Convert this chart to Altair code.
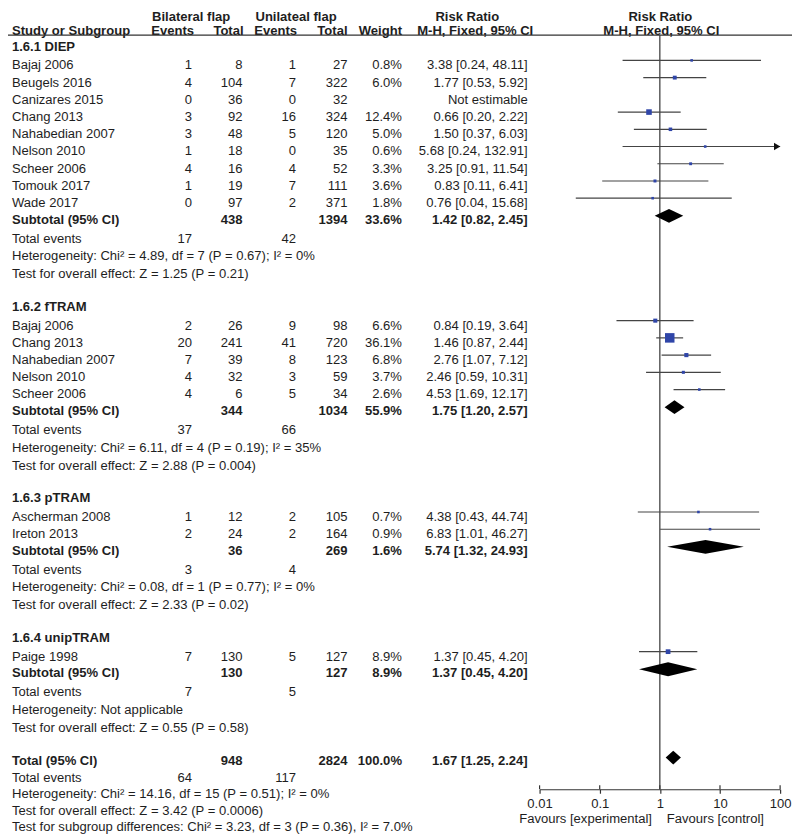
import math
import altair as alt
import pandas as pd

# ---------------- data ----------------
diep_names = ["Bajaj 2006", "Beugels 2016", "Canizares 2015", "Chang 2013", "Nahabedian 2007",
              "Nelson 2010", "Scheer 2006", "Tomouk 2017", "Wade 2017"]
diep_e1 = [1, 4, 0, 3, 3, 1, 4, 1, 0]
diep_n1 = [8, 104, 36, 92, 48, 18, 16, 19, 97]
diep_e2 = [1, 7, 0, 16, 5, 0, 4, 7, 2]
diep_n2 = [27, 322, 32, 324, 120, 35, 52, 111, 371]
diep_w = [0.8, 6.0, None, 12.4, 5.0, 0.6, 3.3, 3.6, 1.8]
diep_rr = [3.38, 1.77, None, 0.66, 1.50, 5.68, 3.25, 0.83, 0.76]
diep_lo = [0.24, 0.53, None, 0.20, 0.37, 0.24, 0.91, 0.11, 0.04]
diep_hi = [48.11, 5.92, None, 2.22, 6.03, 132.91, 11.54, 6.41, 15.68]
diep_sub = [438, 1394, 33.6, 1.42, 0.82, 2.45]
diep_ev = [17, 42]
diep_het = "Heterogeneity: Chi² = 4.89, df = 7 (P = 0.67); I² = 0%"
diep_test = "Test for overall effect: Z = 1.25 (P = 0.21)"

ftram_names = ["Bajaj 2006", "Chang 2013", "Nahabedian 2007", "Nelson 2010", "Scheer 2006"]
ftram_e1 = [2, 20, 7, 4, 4]
ftram_n1 = [26, 241, 39, 32, 6]
ftram_e2 = [9, 41, 8, 3, 5]
ftram_n2 = [98, 720, 123, 59, 34]
ftram_w = [6.6, 36.1, 6.8, 3.7, 2.6]
ftram_rr = [0.84, 1.46, 2.76, 2.46, 4.53]
ftram_lo = [0.19, 0.87, 1.07, 0.59, 1.69]
ftram_hi = [3.64, 2.44, 7.12, 10.31, 12.17]
ftram_sub = [344, 1034, 55.9, 1.75, 1.20, 2.57]
ftram_ev = [37, 66]
ftram_het = "Heterogeneity: Chi² = 6.11, df = 4 (P = 0.19); I² = 35%"
ftram_test = "Test for overall effect: Z = 2.88 (P = 0.004)"

ptram_names = ["Ascherman 2008", "Ireton 2013"]
ptram_e1 = [1, 2]
ptram_n1 = [12, 24]
ptram_e2 = [2, 2]
ptram_n2 = [105, 164]
ptram_w = [0.7, 0.9]
ptram_rr = [4.38, 6.83]
ptram_lo = [0.43, 1.01]
ptram_hi = [44.74, 46.27]
ptram_sub = [36, 269, 1.6, 5.74, 1.32, 24.93]
ptram_ev = [3, 4]
ptram_het = "Heterogeneity: Chi² = 0.08, df = 1 (P = 0.77); I² = 0%"
ptram_test = "Test for overall effect: Z = 2.33 (P = 0.02)"

unip_names = ["Paige 1998"]
unip_e1 = [7]
unip_n1 = [130]
unip_e2 = [5]
unip_n2 = [127]
unip_w = [8.9]
unip_rr = [1.37]
unip_lo = [0.45]
unip_hi = [4.20]
unip_sub = [130, 127, 8.9, 1.37, 0.45, 4.20]
unip_ev = [7, 5]
unip_het = "Heterogeneity: Not applicable"
unip_test = "Test for overall effect: Z = 0.55 (P = 0.58)"

total_vals = [948, 2824, 100.0, 1.67, 1.25, 2.24]
total_ev = [64, 117]
total_het = "Heterogeneity: Chi² = 14.16, df = 15 (P = 0.51); I² = 0%"
total_test = "Test for overall effect: Z = 3.42 (P = 0.0006)"
subgroup_test = "Test for subgroup differences: Chi² = 3.23, df = 3 (P = 0.36), I² = 7.0%"

axis_ticks = [0.01, 0.1, 1, 10, 100]

groups = [
    ("1.6.1 DIEP", diep_names, diep_e1, diep_n1, diep_e2, diep_n2, diep_w, diep_rr, diep_lo, diep_hi,
     diep_sub, diep_ev, diep_het, diep_test),
    ("1.6.2 fTRAM", ftram_names, ftram_e1, ftram_n1, ftram_e2, ftram_n2, ftram_w, ftram_rr, ftram_lo, ftram_hi,
     ftram_sub, ftram_ev, ftram_het, ftram_test),
    ("1.6.3 pTRAM", ptram_names, ptram_e1, ptram_n1, ptram_e2, ptram_n2, ptram_w, ptram_rr, ptram_lo, ptram_hi,
     ptram_sub, ptram_ev, ptram_het, ptram_test),
    ("1.6.4 unipTRAM", unip_names, unip_e1, unip_n1, unip_e2, unip_n2, unip_w, unip_rr, unip_lo, unip_hi,
     unip_sub, unip_ev, unip_het, unip_test),
]

# ---------------- layout (row positions, reference pixel units) ----------------
FONT = "Liberation Sans"
FS = 13.2
TXT = "#1e1e1e"
LINE = "#333333"
BLUE = "#2f45a8"

G_FIRST, G_STUDY, G_SUB, G_EV, G_HET, G_TEST, G_HEAD = 18.7, 17.4, 16.8, 19.2, 17.8, 18.0, 33.2
FO = -5.0   # forest marks sit slightly above text centre
DO = -4.0
DH = 7.0    # diamond half height

COLS = {"name": (4, "left"), "e1": (186, "right"), "n1": (237, "right"), "e2": (291, "right"),
        "n2": (343, "right"), "w": (398, "right"), "rr": (525, "right")}

texts = []
cis = []
dias = []


def add(y, col, t, bold=False):
    texts.append({"y": y, "col": col, "t": str(t), "bold": bold})


def rrtxt(r, lo, hi):
    return f"{r:.2f} [{lo:.2f}, {hi:.2f}]"


y = 43.0
gid = 0
for gi, g in enumerate(groups):
    title, names, e1, n1, e2, n2, w, rr, lo, hi, sub, ev, het, test = g
    if gi > 0:
        y += G_HEAD
    add(y, "name", title, True)
    y += G_FIRST
    for i, nm in enumerate(names):
        if i > 0:
            y += G_STUDY
        add(y, "name", nm)
        add(y, "e1", e1[i]); add(y, "n1", n1[i]); add(y, "e2", e2[i]); add(y, "n2", n2[i])
        if rr[i] is None:
            add(y, "rr", "Not estimable")
        else:
            add(y, "w", f"{w[i]:.1f}%")
            add(y, "rr", rrtxt(rr[i], lo[i], hi[i]))
            cis.append({"y": y + FO, "rr": rr[i], "lo": lo[i], "hi": min(hi[i], 100.0),
                        "arrow": hi[i] > 100, "size": max(2.6, 1.6 * math.sqrt(w[i])) ** 2})
    y += G_SUB
    add(y, "name", "Subtotal (95% CI)", True)
    add(y, "n1", sub[0], True); add(y, "n2", sub[1], True)
    add(y, "w", f"{sub[2]:.1f}%", True); add(y, "rr", rrtxt(sub[3], sub[4], sub[5]), True)
    yd = y + DO
    dias += [{"gid": gid, "x": sub[4], "y1": yd, "y2": yd},
             {"gid": gid, "x": sub[3], "y1": yd - DH, "y2": yd + DH},
             {"gid": gid, "x": sub[5], "y1": yd, "y2": yd}]
    gid += 1
    y += G_EV
    add(y, "name", "Total events"); add(y, "e1", ev[0]); add(y, "e2", ev[1])
    y += G_HET
    add(y, "name", het)
    y += G_TEST
    add(y, "name", test)

y += G_HEAD
add(y, "name", "Total (95% CI)", True)
add(y, "n1", total_vals[0], True); add(y, "n2", total_vals[1], True)
add(y, "w", f"{total_vals[2]:.1f}%", True); add(y, "rr", rrtxt(*total_vals[3:]), True)
yd = y + DO + 1
dias += [{"gid": gid, "x": total_vals[4], "y1": yd, "y2": yd},
         {"gid": gid, "x": total_vals[3], "y1": yd - DH, "y2": yd + DH},
         {"gid": gid, "x": total_vals[5], "y1": yd, "y2": yd}]
y += 17.5
add(y, "name", "Total events"); add(y, "e1", total_ev[0]); add(y, "e2", total_ev[1])
y += 16.5
add(y, "name", total_het)
y += 16.5
add(y, "name", total_test)
y += 17.0
add(y, "name", subgroup_test)

tdf = pd.DataFrame(texts)
cidf = pd.DataFrame(cis)
ddf = pd.DataFrame(dias)

# ---------------- scales ----------------
W, H = 792, 831
YS = alt.Scale(domain=[6, 43, 839], range=[5.0, 35, H], nice=False, zero=False)
XS = alt.Scale(type="log", domain=[0.01, 100], range=[537, 780], nice=False)
AX = alt.Axis(
    values=axis_ticks, title=None, grid=False, offset=-46,
    labelExpr="datum.value >= 1 ? format(datum.value, 'd') : format(datum.value, '.2~f')",
    labelFont=FONT, labelFontSize=FS, labelColor=TXT, labelPadding=4,
    domainColor=LINE, domainWidth=1.2, tickColor=LINE, tickWidth=1.2, tickSize=4,
    labelOverlap=False, labelFlush=False)


def Yf(f):
    return alt.Y(f"{f}:Q", scale=YS, axis=None, stack=None)


def Xf(f):
    return alt.X(f"{f}:Q", scale=XS, axis=AX)


layers = []

# table text columns
for col, (xp, al) in COLS.items():
    for bold in (False, True):
        sub_df = tdf[(tdf.col == col) & (tdf.bold == bold)]
        if len(sub_df) == 0:
            continue
        layers.append(alt.Chart(sub_df).mark_text(
            align=al, baseline="middle", font=FONT, fontSize=FS,
            fontWeight="bold" if bold else "normal", color=TXT
        ).encode(x=alt.value(xp), y=Yf("y"), text="t:N"))

# header texts
headers = [
    ("Bilateral flap", 185, "center", 6), ("Unilateal flap", 291, "center", 6),
    ("Risk Ratio", 464, "center", 6), ("Risk Ratio", 659, "center", 6),
    ("Study or Subgroup", 4, "left", 23), ("Events", 188, "right", 23), ("Total", 238, "right", 23),
    ("Events", 292, "right", 23), ("Total", 343, "right", 23), ("Weight", 398, "right", 23),
    ("M-H, Fixed, 95% CI", 472, "center", 23), ("M-H, Fixed, 95% CI", 660, "center", 23),
]
for t, xp, al, yy in headers:
    layers.append(alt.Chart(pd.DataFrame({"y": [yy], "t": [t]})).mark_text(
        align=al, baseline="middle", font=FONT, fontSize=FS, fontWeight="bold", color=TXT
    ).encode(x=alt.value(xp), y=Yf("y"), text="t:N"))

# header underline
layers.append(alt.Chart(pd.DataFrame({"y": [28.5]})).mark_rule(color=LINE, strokeWidth=1.3).encode(
    x=alt.value(0), x2=alt.value(W), y=Yf("y")))

# no-effect line
layers.append(alt.Chart(pd.DataFrame({"x": [1.0], "ya": [28.5], "yb": [793]})).mark_rule(
    color=LINE, strokeWidth=1.2).encode(x=Xf("x"), y=Yf("ya"), y2="yb:Q"))

# CI lines
layers.append(alt.Chart(cidf).mark_rule(color="#444444", strokeWidth=1.2).encode(
    x=Xf("lo"), x2="hi:Q", y=Yf("y")))
# squares
layers.append(alt.Chart(cidf).mark_square(filled=True, color=BLUE, opacity=1, strokeWidth=0).encode(
    x=Xf("rr"), y=Yf("y"), size=alt.Size("size:Q", scale=None, legend=None)))
# arrows
layers.append(alt.Chart(cidf[cidf.arrow]).mark_point(
    shape="triangle-right", filled=True, color="#111111", size=55, opacity=1, xOffset=-3
).encode(x=Xf("hi"), y=Yf("y")))

# diamonds
layers.append(alt.Chart(ddf).mark_area(orient="vertical", color="#000000", opacity=1).encode(
    x=Xf("x"), y=Yf("y1"), y2="y2:Q", detail="gid:N"))

# upward half of the axis ticks
tick_df = pd.DataFrame({"tv": axis_ticks, "ya": [789] * 5, "yb": [793] * 5})
layers.append(alt.Chart(tick_df).mark_rule(color=LINE, strokeWidth=1.2).encode(
    x=Xf("tv"), y=Yf("ya"), y2="yb:Q"))

# favours labels
fav = pd.DataFrame({"x": [1.0, 1.0], "y": [823, 823], "t": ["Favours [experimental]", "Favours [control]"]})
layers.append(alt.Chart(fav[fav.t.str.contains("exp")]).mark_text(
    align="right", baseline="middle", font=FONT, fontSize=FS, color=TXT, dx=-8
).encode(x=Xf("x"), y=Yf("y"), text="t:N"))
layers.append(alt.Chart(fav[fav.t.str.contains("control")]).mark_text(
    align="left", baseline="middle", font=FONT, fontSize=FS, color=TXT, dx=7
).encode(x=Xf("x"), y=Yf("y"), text="t:N"))

chart = alt.layer(*layers).properties(
    width=W, height=H, autosize=alt.AutoSizeParams(type="none"), padding=0
).configure_view(stroke=None)

chart.save("out.html", embed_options={"renderer": "svg", "actions": False})
